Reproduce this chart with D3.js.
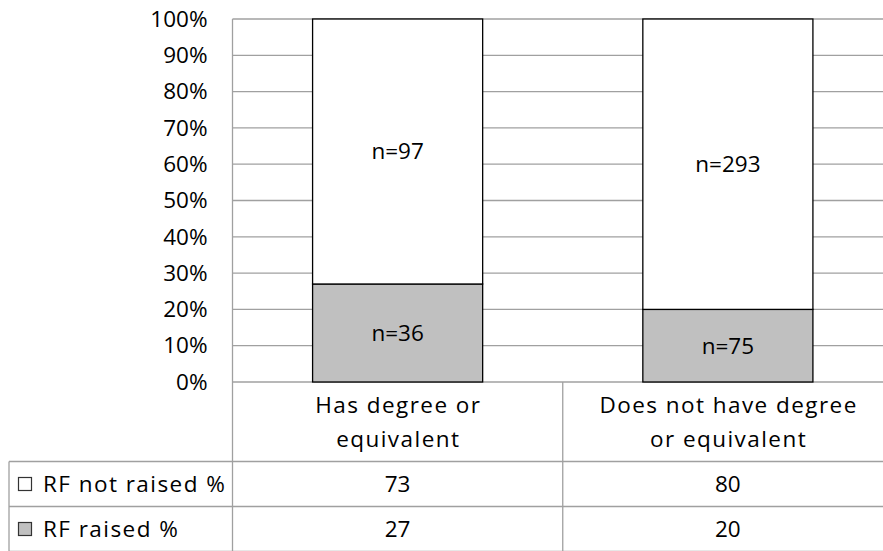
<!DOCTYPE html>
<html>
<head>
<meta charset="utf-8">
<script src="https://cdn.jsdelivr.net/npm/d3@7"></script>
<style>
  html, body { margin: 0; padding: 0; background: #fff; }
  svg { display: block; font-family: "Open Sans", "Noto Sans", sans-serif; }
</style>
</head>
<body>
<svg id="chart" width="883" height="551"></svg>
<script>
// Categories (two lines each in the table header)
const categories = ["Has degree or equivalent", "Does not have degree or equivalent"];
const categoryLines = [["Has degree or", "equivalent"], ["Does not have degree", "or equivalent"]];

// Series: percentage values per category
const seriesNames = ["RF not raised %", "RF raised %"];
const notRaised = [73, 80];
const raised = [27, 20];

// Counts shown inside the segments
const nNotRaised = [97, 293];
const nRaised = [36, 75];

const yTicks = [0, 10, 20, 30, 40, 50, 60, 70, 80, 90, 100];

const svg = d3.select("#chart");
const fontSize = 22.5;
const wordSpacing = "1.45px";
const gridColor = "#a0a0a0";
const raisedFill = "#c0c0c0";

const plotLeft = 232.5, plotRight = 893;
const plotTop = 19, plotBottom = 382;
const tableLeft = 9;
const headerBottom = 461.5;
const rowH = 45;

const y = d3.scaleLinear().domain([0, 100]).range([plotBottom, plotTop]);
const x = d3.scaleBand().domain(categories).range([plotLeft, plotRight]).padding(0);
const barFrac = 0.515;
const barW = x.bandwidth() * barFrac;

// Gridlines
svg.append("g")
  .selectAll("line")
  .data(yTicks)
  .join("line")
  .attr("x1", plotLeft).attr("x2", plotRight)
  .attr("y1", d => y(d)).attr("y2", d => y(d))
  .attr("stroke", gridColor).attr("stroke-width", 1.3);

// Y axis labels
const yAxis = d3.axisLeft(y).tickValues(yTicks).tickFormat(d => d + "%").tickSize(0).tickPadding(25);
const yg = svg.append("g").attr("transform", `translate(${plotLeft},0)`).call(yAxis);
yg.select(".domain").remove();
yg.selectAll("text").attr("font-size", fontSize).attr("font-family", "'Open Sans', sans-serif").attr("fill", "#000");

// Stacked data
const rows = categories.map((c, i) => ({ cat: c, notRaised: notRaised[i], raised: raised[i], nNR: nNotRaised[i], nR: nRaised[i] }));
const stack = d3.stack().keys(["raised", "notRaised"]);
const layers = stack(rows);
const fills = { raised: raisedFill, notRaised: "#ffffff" };
const counts = { raised: "nR", notRaised: "nNR" };

const bars = svg.append("g");
layers.forEach(layer => {
  bars.append("g")
    .selectAll("rect")
    .data(layer)
    .join("rect")
    .attr("x", d => x(d.data.cat) + (x.bandwidth() - barW) / 2)
    .attr("width", barW)
    .attr("y", d => y(d[1]))
    .attr("height", d => y(d[0]) - y(d[1]))
    .attr("fill", fills[layer.key])
    .attr("stroke", "#000").attr("stroke-width", 1.3);
  bars.append("g")
    .selectAll("text")
    .data(layer)
    .join("text")
    .attr("x", d => x(d.data.cat) + x.bandwidth() / 2)
    .attr("y", d => y((d[0] + d[1]) / 2))
    .attr("dy", "0.35em")
    .attr("text-anchor", "middle")
    .attr("font-size", fontSize)
    .text(d => "n=" + d.data[counts[layer.key]]);
});

// Data table
const tbl = svg.append("g").attr("stroke", gridColor).attr("stroke-width", 1.3);
// vertical lines
tbl.append("line").attr("x1", plotLeft).attr("x2", plotLeft).attr("y1", plotTop).attr("y2", 551);
tbl.append("line").attr("x1", tableLeft).attr("x2", tableLeft).attr("y1", headerBottom).attr("y2", 551);
categories.forEach((c, i) => {
  if (i > 0) tbl.append("line").attr("x1", x(c)).attr("x2", x(c)).attr("y1", plotBottom).attr("y2", 551);
});
// horizontal lines
[headerBottom, headerBottom + rowH, headerBottom + 2 * rowH].forEach(yy => {
  tbl.append("line").attr("x1", tableLeft).attr("x2", plotRight).attr("y1", yy).attr("y2", yy);
});

// Category headers
categories.forEach((c, i) => {
  const cx = x(c) + x.bandwidth() / 2 + 0.7;
  const t = svg.append("text")
    .attr("text-anchor", "middle")
    .attr("font-size", fontSize)
    .style("letter-spacing", wordSpacing);
  categoryLines[i].forEach((line, j) => {
    t.append("tspan").attr("x", cx).attr("y", 413 + j * 33.5).text(line);
  });
});

// Series rows
const seriesVals = [notRaised, raised];
const seriesFill = ["#ffffff", raisedFill];
seriesNames.forEach((name, r) => {
  const cy = headerBottom + rowH * r + rowH / 2;
  svg.append("rect")
    .attr("x", 18.5).attr("y", cy - 6.5).attr("width", 13).attr("height", 13)
    .attr("fill", seriesFill[r]).attr("stroke", "#333").attr("stroke-width", 1.2);
  svg.append("text")
    .attr("x", 43).attr("y", cy).attr("dy", "0.35em")
    .attr("font-size", fontSize)
    .style("letter-spacing", wordSpacing)
    .text(name);
  categories.forEach((c, i) => {
    svg.append("text")
      .attr("x", x(c) + x.bandwidth() / 2).attr("y", cy).attr("dy", "0.35em")
      .attr("text-anchor", "middle").attr("font-size", fontSize)
      .text(seriesVals[r][i]);
  });
});
</script>
</body>
</html>
